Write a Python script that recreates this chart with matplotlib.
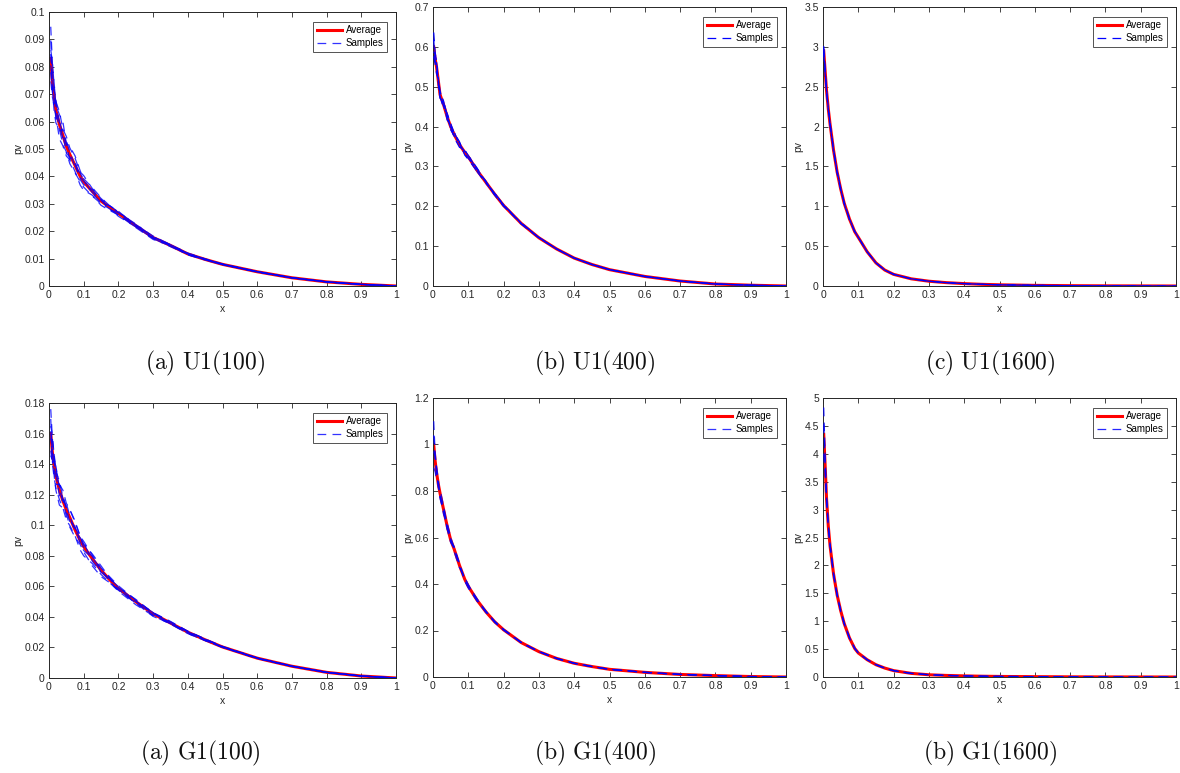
import matplotlib
matplotlib.use("Agg")
import matplotlib.pyplot as plt
import numpy as np
from matplotlib.ticker import FuncFormatter, MultipleLocator

plt.rcParams["font.family"] = ["Liberation Sans", "DejaVu Sans"]
plt.rcParams["mathtext.fontset"] = "cm"

# x positions of the tabulated density values
x_coarse = [0.005, 0.01, 0.015, 0.02, 0.03, 0.04, 0.05, 0.06, 0.075, 0.09, 0.1,
            0.125, 0.15, 0.175, 0.2, 0.25, 0.3, 0.35, 0.4, 0.45, 0.5, 0.6, 0.7,
            0.8, 0.9, 1.0]
x_fine = [0.002, 0.006, 0.01, 0.015, 0.02, 0.03, 0.04, 0.05, 0.06, 0.075, 0.09,
          0.1, 0.125, 0.15, 0.175, 0.2, 0.25, 0.3, 0.35, 0.4, 0.45, 0.5, 0.6,
          0.7, 0.8, 0.9, 1.0]

# averaged pv curves
avg_u1_100 = [0.083, 0.074, 0.069, 0.064, 0.059, 0.055, 0.051, 0.048, 0.044, 0.040,
              0.038, 0.0345, 0.031, 0.0287, 0.0265, 0.022, 0.0177, 0.0148, 0.0117,
              0.0097, 0.0079, 0.0052, 0.003, 0.0015, 0.0006, 0.0]
avg_u1_400 = [0.60, 0.57, 0.55, 0.515, 0.48, 0.455, 0.425, 0.40, 0.38, 0.355, 0.335,
              0.324, 0.29, 0.26, 0.23, 0.202, 0.157, 0.121, 0.093, 0.070, 0.054,
              0.041, 0.024, 0.0125, 0.005, 0.002, 0.0]
avg_u1_1600 = [2.95, 2.7, 2.45, 2.22, 2.03, 1.7, 1.43, 1.22, 1.04, 0.84, 0.68, 0.61,
               0.43, 0.29, 0.2, 0.146, 0.09, 0.06, 0.042, 0.03, 0.021, 0.015, 0.008,
               0.004, 0.002, 0.001, 0.0]
avg_g1_100 = [0.160, 0.147, 0.139, 0.132, 0.123, 0.116, 0.110, 0.105, 0.097, 0.090,
              0.086, 0.078, 0.0706, 0.0643, 0.0586, 0.050, 0.042, 0.036, 0.030,
              0.025, 0.0203, 0.013, 0.0077, 0.0037, 0.0013, 0.0]
avg_g1_400 = [1.0, 0.93, 0.88, 0.83, 0.79, 0.72, 0.65, 0.59, 0.55, 0.48, 0.42, 0.39,
              0.33, 0.28, 0.237, 0.203, 0.148, 0.109, 0.08, 0.059, 0.045, 0.033,
              0.02, 0.011, 0.006, 0.002, 0.0]
avg_g1_1600 = [4.35, 3.8, 3.2, 2.7, 2.35, 1.84, 1.47, 1.19, 0.96, 0.70, 0.51, 0.43,
               0.31, 0.22, 0.16, 0.114, 0.065, 0.04, 0.028, 0.02, 0.014, 0.01,
               0.006, 0.003, 0.0015, 0.0007, 0.0]

# individual sample runs, as percent deviation from the average curve
dev_u1_100 = [
    [14, 9, 6, 5, 8, 4, 7, 5, 6, 4, 6, 3, 3, 2, 2, 2, 3, 2, 3, 2, 2, 2, 1, 1, 0, 0],
    [-6, -4, -8, -7, -3, -6, -4, -7, -6, -5, -5, -5, -3, -2, -4, -2, -2, -3, -1, -2, -2, -1, -1, 0, 0, 0],
    [4, 10, 7, 3, 6, 9, 2, 6, 8, 5, 3, 4, 4, 2, 1, 3, 1, 2, 2, 1, 1, 1, 0, 1, 0, 0],
    [-10, -7, -5, -3, -9, -7, -7, -4, -5, -8, -8, -4, -5, -4, -2, -3, -4, -1, -3, -2, -1, -2, -1, 0, 0, 0],
    [8, -2, 3, 6, 1, -2, 4, 2, -1, 3, 2, -2, -2, 2, 3, 0, 2, -1, 1, 1, 0, 1, 0, 0, 0, 0],
    [-3, 3, -2, -5, 2, 1, -5, -2, 1, -3, -3, 2, 1, -2, -3, 1, -2, 1, -2, -1, 1, -1, 0, 0, 0, 0],
    [2, -5, 1, 2, -4, 4, 1, -4, 3, -1, 1, -1, 2, -3, 1, -1, -1, 2, -1, 2, -1, 0, 1, 0, 0, 0],
]
dev_u1_400 = [
    [6, 3, 2, 1, -2, 2, 1, -1, 2, -1, 1, 2, -1, -1, 1, 1, 0, 1, 0, 0, 0, 0, 0, 0, 0, 0, 0],
    [-4, -2, -3, 1, 2, -1, 1, -2, -1, 1, -1, -1, 1, 1, -1, -1, 1, 0, 0, 0, 0, 0, 0, 0, 0, 0, 0],
    [3, -1, 1, -2, 1, 2, -2, 1, -2, -2, 2, 1, 2, 0, 1, 0, -1, 0, 0, 0, 0, 0, 0, 0, 0, 0, 0],
    [-2, 2, 3, -1, -1, -2, 2, 2, 1, 2, -2, -2, -1, 1, -1, 1, 0, 0, 0, 0, 0, 0, 0, 0, 0, 0, 0],
]
dev_u1_1600 = [
    [2, 1, 1, 0, -1, 1, 0, 1, 0, 1, 0, 0, 0, 0, 0, 0, 0, 0, 0, 0, 0, 0, 0, 0, 0, 0, 0],
    [-1, -1, 0, 1, 0, -1, 1, 0, -1, 0, 1, 0, 0, 0, 0, 0, 0, 0, 0, 0, 0, 0, 0, 0, 0, 0, 0],
    [1, 0, -1, 0, 1, 0, -1, -1, 1, -1, 0, 0, 0, 0, 0, 0, 0, 0, 0, 0, 0, 0, 0, 0, 0, 0, 0],
]
dev_g1_100 = [
    [10, 6, 5, 4, 3, 6, 4, 5, 5, 3, 4, 3, 2, 3, 3, 2, 2, 3, 2, 2, 2, 1, 1, 0, 0, 0],
    [-7, -5, -6, -6, -5, -4, -6, -5, -4, -7, -7, -4, -4, -3, -3, -4, -3, -2, -3, -2, -1, -1, -1, 0, 0, 0],
    [3, 8, 4, 2, 5, 2, 1, 5, 6, 3, 2, 4, 4, 2, 1, 3, 1, 2, 2, 2, 1, 1, 0, 1, 0, 0],
    [-9, -3, -5, -7, -8, -4, -2, -6, -5, -3, -4, -6, -6, -3, -2, -2, -4, -1, -3, -2, -1, -2, -1, 0, 0, 0],
    [6, -2, 2, 5, 1, -1, 4, 1, -1, 2, 3, -2, -2, 1, 2, 0, 2, -1, 1, 1, 0, 1, 0, 0, 0, 0],
    [-2, 2, -1, -4, 3, 1, -4, -2, 2, -2, -3, 1, 1, -2, -2, 1, -2, 1, -1, -1, 1, -1, 0, 0, 0, 0],
    [1, -4, 2, 1, -3, 3, 1, -3, 1, 3, -1, 2, -2, 1, -1, -2, 1, -1, 1, 2, -1, 0, 1, 0, 0, 0],
]
dev_g1_400 = [
    [10, 4, 3, 2, -2, 2, 1, -1, 2, -1, 1, 2, -1, -1, 1, 1, 0, 1, 0, 0, 0, 0, 0, 0, 0, 0, 0],
    [-10, -5, -4, 1, -3, -1, -2, -2, 1, 1, -2, -1, 1, 1, -1, -1, 1, 0, 0, 0, 0, 0, 0, 0, 0, 0, 0],
    [4, 1, 2, -2, 2, 2, -2, 1, -2, -2, 2, 1, 2, 0, 1, 0, -1, 0, 0, 0, 0, 0, 0, 0, 0, 0, 0],
    [-3, 2, -1, -1, -1, -3, 2, 2, 1, 2, -1, -2, -1, 1, -1, 1, 0, 0, 0, 0, 0, 0, 0, 0, 0, 0, 0],
]
dev_g1_1600 = [
    [11, 5, 2, 1, 1, -1, 0, 1, 0, 1, 0, 0, 0, 0, 0, 0, 0, 0, 0, 0, 0, 0, 0, 0, 0, 0, 0],
    [-8, -4, -2, 0, 1, 1, -1, 0, 1, 0, 1, 0, 0, 0, 0, 0, 0, 0, 0, 0, 0, 0, 0, 0, 0, 0, 0],
    [4, 2, 1, -1, 0, 0, 1, -1, -1, 0, 0, 0, 0, 0, 0, 0, 0, 0, 0, 0, 0, 0, 0, 0, 0, 0, 0],
]

captions = ["(a) U1(100)", "(b) U1(400)", "(c) U1(1600)",
            "(a) G1(100)", "(b) G1(400)", "(b) G1(1600)"]
y_tops = [0.1, 0.7, 3.5, 0.18, 1.2, 5]
y_steps = [0.01, 0.1, 0.5, 0.02, 0.2, 0.5]

panels = [
    (x_coarse, avg_u1_100, dev_u1_100),
    (x_fine, avg_u1_400, dev_u1_400),
    (x_fine, avg_u1_1600, dev_u1_1600),
    (x_coarse, avg_g1_100, dev_g1_100),
    (x_fine, avg_g1_400, dev_g1_400),
    (x_fine, avg_g1_1600, dev_g1_1600),
]
sample_alpha = [0.8, 1.0, 1.0, 0.8, 0.8, 0.85]

W, H = 1180, 773
# axes boxes in pixels: left, top, right, bottom
boxes = [(49, 12, 396, 286), (433, 7, 786, 286), (823, 7, 1176, 286),
         (49, 403, 396, 678), (433, 398, 786, 677), (823, 398, 1176, 677)]
caption_pos = [(205, 363), (595, 363), (990, 363),
               (200, 753), (595, 753), (990, 753)]

fig = plt.figure(figsize=(W / 100, H / 100), dpi=100)
dark = "#262626"
fmt = FuncFormatter(lambda v, p: "%g" % round(v, 6))

for i, (xs, avg, devs) in enumerate(panels):
    l, t, r, b = boxes[i]
    ax = fig.add_axes([l / W, 1 - b / H, (r - l) / W, (b - t) / H])
    xs_a = np.asarray(xs)
    avg_a = np.asarray(avg)
    ax.plot(xs_a, avg_a, color="red", lw=2.2, label="Average", zorder=2)
    for k, d in enumerate(devs):
        ys = avg_a * (1 + np.asarray(d) / 100.0)
        ax.plot(xs_a, ys, color="blue", lw=0.9, ls=(0, (7, 5)),
                alpha=sample_alpha[i], label="Samples" if k == 0 else None,
                zorder=3)
    ax.set_xlim(0, 1)
    ax.set_ylim(0, y_tops[i])
    ax.xaxis.set_major_locator(MultipleLocator(0.1))
    ax.yaxis.set_major_locator(MultipleLocator(y_steps[i]))
    ax.xaxis.set_major_formatter(fmt)
    ax.yaxis.set_major_formatter(fmt)
    ax.tick_params(direction="in", length=3.5, width=0.6, labelsize=7.5,
                   colors=dark, top=True, right=True, pad=3)
    for s in ax.spines.values():
        s.set_color(dark)
        s.set_linewidth(0.7)
    ax.set_xlabel("x", fontsize=7.5, color=dark, labelpad=3)
    ax.set_ylabel("pv", fontsize=7.5, color=dark, labelpad=1)
    bw = r - l
    bh = b - t
    leg = ax.legend(loc="upper right", bbox_to_anchor=(1 - 9 / bw, 1 - 10 / bh),
                    borderaxespad=0, fontsize=7, handlelength=2.6,
                    fancybox=False, frameon=True, borderpad=0.35,
                    labelspacing=0.3, handletextpad=0.4)
    leg.get_frame().set_edgecolor(dark)
    leg.get_frame().set_linewidth(0.7)
    cx, cy = caption_pos[i]
    fig.text(cx / W, 1 - cy / H, r"$\mathrm{" + captions[i].replace(" ", r"\ ") + "}$",
             ha="center", va="center", fontsize=17, color="#111111")

fig.savefig("out.png", dpi=100, facecolor="white")
